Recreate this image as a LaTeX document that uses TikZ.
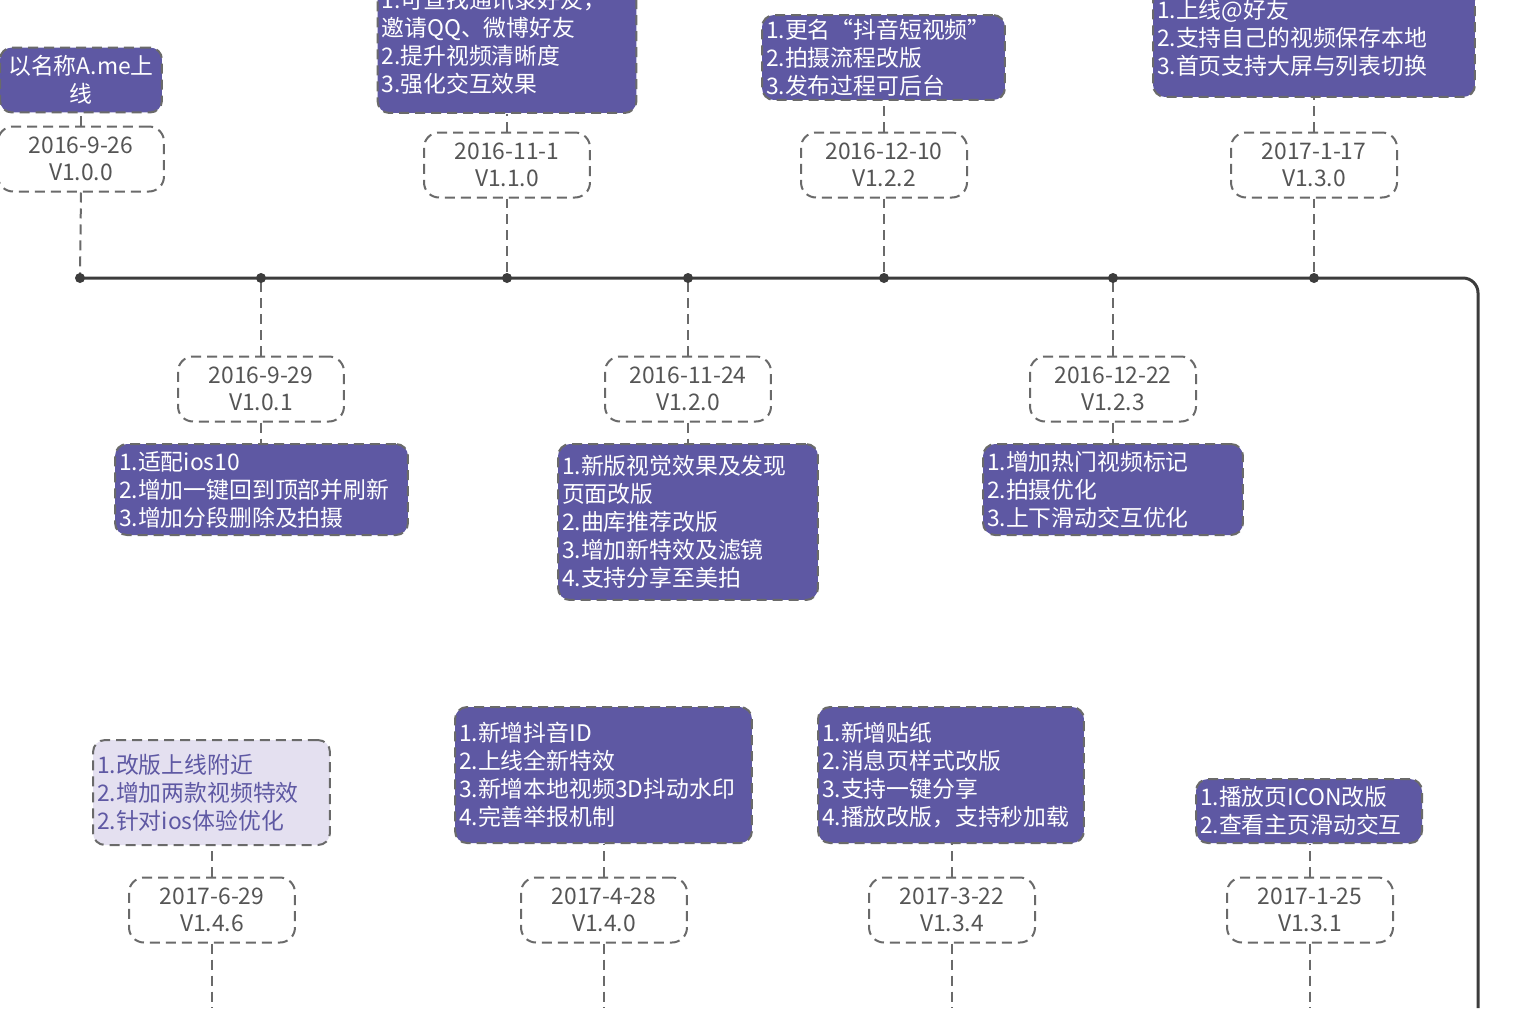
\documentclass[tikz,border=0pt]{standalone}
\usepackage{fontspec}
\setmainfont{Noto Sans CJK SC}
\usepackage{xcolor}

\definecolor{notepurple}{HTML}{5E58A3}
\definecolor{notelilac}{HTML}{E4E0F0}
\definecolor{linegray}{HTML}{6A6A6A}
\definecolor{dategray}{HTML}{555555}
\definecolor{axisgray}{HTML}{3C3C3C}

\tikzset{
	notebox/.style={draw=linegray, fill=notepurple, text=white, dash pattern=on 0.2cm off 0.12cm, line width=0.04cm, rounded corners=0.24cm, align=left, inner xsep=0.08cm, inner ysep=0pt, font=\fontsize{13}{15.9}\selectfont},
	datebox/.style={draw=linegray, fill=white, text=dategray, dash pattern=on 0.2cm off 0.12cm, line width=0.04cm, rounded corners=0.3cm, align=center, minimum width=3.32cm, minimum height=1.3cm, inner sep=0pt, font=\fontsize{13}{15.3}\selectfont},
	link/.style={draw=linegray, dash pattern=on 0.2cm off 0.12cm, line width=0.04cm},
	axisline/.style={draw=axisgray, line width=0.06cm, rounded corners=0.3cm}
}

\begin{document}
\begin{tikzpicture}[x=0.02cm, y=-0.02cm]

		\clip (0, 0) rectangle (1530, 1008);
		\fill[white] (0, 0) rectangle (1530, 1008);

		\coordinate (t1) at (80, 278);
		\coordinate (t2) at (261, 278);
		\coordinate (t3) at (507, 278);
		\coordinate (t4) at (688, 278);
		\coordinate (t5) at (884, 278);
		\coordinate (t6) at (1113, 278);
		\coordinate (t7) at (1314, 278);
		\coordinate (tend) at (1478, 1008);

		\draw[axisline] (t1) -| (tend);

		\node[notebox, align=center, text width=3.08cm, minimum height=1.3cm] (n1) at (81, 80) {以名称A.me上\\线};
		\node[notebox, text width=5.02cm, minimum height=2.84cm] (n2) at (507, 42) {1.可查找通讯录好友，\\邀请QQ、微博好友\\2.提升视频清晰度\\3.强化交互效果};
		\node[notebox, text width=4.70cm, minimum height=1.70cm] (n3) at (883.5, 57.5) {1.更名“抖音短视频”\\2.拍摄流程改版\\3.发布过程可后台};
		\node[notebox, text width=6.28cm, minimum height=2.38cm] (n4) at (1314, 37.5) {1.上线@好友\\2.支持自己的视频保存本地\\3.首页支持大屏与列表切换};

		\node[notebox, text width=5.70cm, minimum height=1.82cm] (n5) at (261.5, 489.5) {1.适配ios10\\2.增加一键回到顶部并刷新\\3.增加分段删除及拍摄};
		\node[notebox, text width=5.04cm, minimum height=3.12cm] (n6) at (688, 522) {1.新版视觉效果及发现\\页面改版\\2.曲库推荐改版\\3.增加新特效及滤镜\\4.支持分享至美拍};
		\node[notebox, text width=5.04cm, minimum height=1.82cm] (n7) at (1113, 489.5) {1.增加热门视频标记\\2.拍摄优化\\3.上下滑动交互优化};

		\node[notebox, fill=notelilac, text=notepurple, text width=4.58cm, minimum height=2.10cm] (n8) at (211.5, 792.5) {1.改版上线附近\\2.增加两款视频特效\\2.针对ios体验优化};
		\node[notebox, text width=5.78cm, minimum height=2.72cm] (n9) at (603.5, 775) {1.新增抖音ID\\2.上线全新特效\\3.新增本地视频3D抖动水印\\4.完善举报机制};
		\node[notebox, text width=5.16cm, minimum height=2.72cm] (n10) at (951, 775) {1.新增贴纸\\2.消息页样式改版\\3.支持一键分享\\4.播放改版，支持秒加载};
		\node[notebox, text width=4.36cm, minimum height=1.28cm] (n11) at (1309, 811) {1.播放页ICON改版\\2.查看主页滑动交互};

		\node[datebox] (d1) at (81, 159) {2016-9-26\\V1.0.0};
		\node[datebox] (d2) at (507, 165) {2016-11-1\\V1.1.0};
		\node[datebox] (d3) at (884, 165) {2016-12-10\\V1.2.2};
		\node[datebox] (d4) at (1314, 165) {2017-1-17\\V1.3.0};
		\node[datebox] (d5) at (261, 389) {2016-9-29\\V1.0.1};
		\node[datebox] (d6) at (688, 389) {2016-11-24\\V1.2.0};
		\node[datebox] (d7) at (1113, 389) {2016-12-22\\V1.2.3};
		\node[datebox] (d8) at (212, 910) {2017-6-29\\V1.4.6};
		\node[datebox] (d9) at (604, 910) {2017-4-28\\V1.4.0};
		\node[datebox] (d10) at (952, 910) {2017-3-22\\V1.3.4};
		\node[datebox] (d11) at (1310, 910) {2017-1-25\\V1.3.1};

		\coordinate (b8) at (212, 1008);
		\coordinate (b9) at (604, 1008);
		\coordinate (b10) at (952, 1008);
		\coordinate (b11) at (1310, 1008);

		\draw[link] (d1.north) -- (d1.north |- n1.south);
		\draw[link] (d2.north) -- (d2.north |- n2.south);
		\draw[link] (d3.north) -- (d3.north |- n3.south);
		\draw[link] (d4.north) -- (d4.north |- n4.south);
		\draw[link] (d5.south) -- (d5.south |- n5.north);
		\draw[link] (d6.south) -- (d6.south |- n6.north);
		\draw[link] (d7.south) -- (d7.south |- n7.north);
		\draw[link] (d8.north) -- (d8.north |- n8.south);
		\draw[link] (d9.north) -- (d9.north |- n9.south);
		\draw[link] (d10.north) -- (d10.north |- n10.south);
		\draw[link] (d11.north) -- (d11.north |- n11.south);

		\draw[link] (d1.south) -- (t1);
		\draw[link] (d2.south) -- (t3);
		\draw[link] (d3.south) -- (t5);
		\draw[link] (d4.south) -- (t7);
		\draw[link] (d5.north) -- (t2);
		\draw[link] (d6.north) -- (t4);
		\draw[link] (d7.north) -- (t6);
		\draw[link] (d8.south) -- (b8);
		\draw[link] (d9.south) -- (b9);
		\draw[link] (d10.south) -- (b10);
		\draw[link] (d11.south) -- (b11);

		\fill[axisgray] (t1) circle (5);
		\fill[axisgray] (t2) circle (5);
		\fill[axisgray] (t3) circle (5);
		\fill[axisgray] (t4) circle (5);
		\fill[axisgray] (t5) circle (5);
		\fill[axisgray] (t6) circle (5);
		\fill[axisgray] (t7) circle (5);

\end{tikzpicture}
\end{document}
